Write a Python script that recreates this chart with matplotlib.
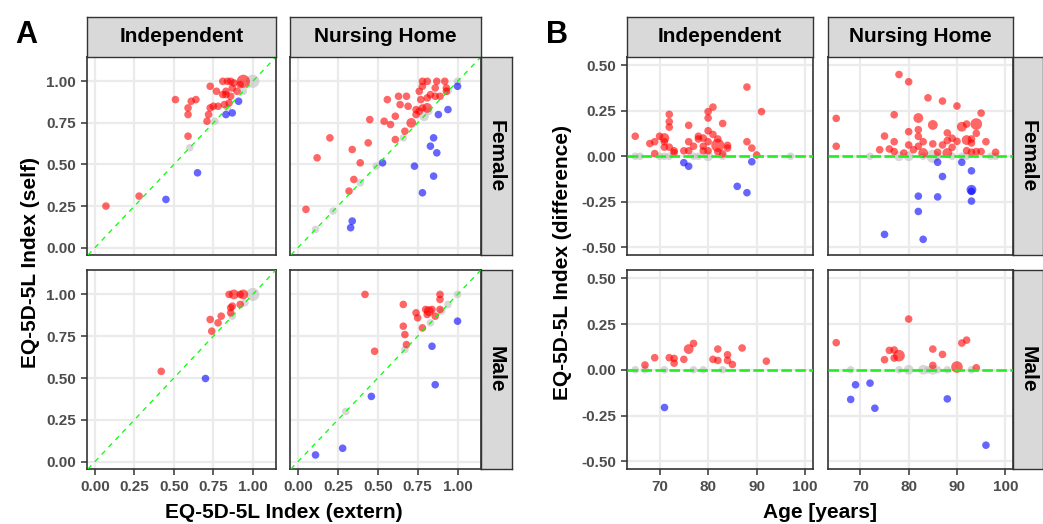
import matplotlib
matplotlib.use("Agg")
import matplotlib.pyplot as plt

# panel A: (EQ-5D-5L index extern, EQ-5D-5L index self, count)
a_ind_female = [
    (0.07, 0.25, 1), (0.28, 0.31, 1), (0.59, 0.67, 1), (0.51, 0.89, 1), (0.61, 0.88, 1),
    (0.64, 0.89, 1), (0.59, 0.84, 1), (0.59, 0.80, 1), (0.71, 0.76, 1), (0.72, 0.80, 1),
    (0.73, 0.84, 1), (0.75, 0.85, 1), (0.78, 0.85, 1), (0.82, 0.86, 1), (0.84, 0.84, 1),
    (0.73, 0.97, 1), (0.77, 0.94, 1), (0.81, 1.00, 1), (0.84, 1.00, 1), (0.86, 1.00, 1),
    (0.81, 0.92, 1), (0.83, 0.94, 1), (0.86, 0.91, 1), (0.87, 0.96, 1), (0.90, 0.94, 1),
    (0.85, 0.87, 1), (0.94, 1.00, 4), (0.92, 0.98, 1), (0.83, 0.92, 1), (0.88, 0.99, 1),
    (0.45, 0.29, 1), (0.65, 0.45, 1), (0.83, 0.80, 1), (0.87, 0.81, 1), (0.91, 0.88, 1),
    (0.60, 0.60, 1), (1.00, 1.00, 4), (0.76, 0.76, 1), (0.94, 0.94, 1),
]
a_nh_female = [
    (0.05, 0.23, 1), (0.12, 0.54, 1), (0.20, 0.66, 1), (0.34, 0.59, 1), (0.39, 0.51, 1),
    (0.44, 0.63, 1), (0.45, 0.77, 1), (0.35, 0.41, 1), (0.32, 0.34, 1), (0.54, 0.76, 1),
    (0.58, 0.74, 1), (0.56, 0.89, 1), (0.61, 0.79, 1), (0.63, 0.91, 1), (0.68, 0.91, 1),
    (0.64, 0.86, 1), (0.69, 0.85, 1), (0.61, 0.65, 1), (0.67, 0.70, 1), (0.71, 0.75, 2),
    (0.74, 0.83, 1), (0.74, 0.80, 1), (0.76, 0.82, 1), (0.77, 0.89, 1), (0.76, 0.94, 1),
    (0.78, 0.97, 1), (0.78, 1.00, 1), (0.81, 1.00, 1), (0.87, 1.00, 1), (0.92, 1.00, 1),
    (0.81, 0.90, 1), (0.83, 0.92, 1), (0.86, 0.91, 1), (0.86, 0.96, 1), (0.89, 0.91, 1),
    (0.93, 0.96, 1), (0.93, 0.94, 1), (0.81, 0.84, 2), (0.78, 0.84, 1), (0.82, 0.82, 1),
    (0.34, 0.16, 1), (0.33, 0.12, 1), (0.53, 0.51, 1), (0.73, 0.49, 1), (0.78, 0.33, 1),
    (0.85, 0.43, 1), (0.83, 0.61, 1), (0.85, 0.66, 1), (0.87, 0.57, 1), (0.88, 0.80, 1),
    (0.94, 0.83, 1), (1.00, 0.97, 1),
    (0.11, 0.11, 1), (0.22, 0.22, 1), (0.39, 0.39, 1), (0.49, 0.49, 1), (0.66, 0.66, 1),
    (0.79, 0.79, 2), (0.94, 0.94, 1), (1.00, 1.00, 1),
]
a_ind_male = [
    (0.42, 0.54, 1), (0.73, 0.85, 1), (0.74, 0.78, 1), (0.78, 0.83, 1), (0.80, 0.87, 1),
    (0.86, 0.92, 1), (0.87, 0.93, 1), (0.86, 0.89, 1), (0.92, 0.94, 1), (0.85, 1.00, 1),
    (0.88, 1.00, 2), (0.92, 1.00, 1), (0.94, 1.00, 2),
    (0.70, 0.50, 1),
    (1.00, 1.00, 4), (0.95, 0.95, 1), (0.87, 0.87, 1),
]
a_nh_male = [
    (0.42, 1.00, 1), (0.48, 0.66, 1), (0.66, 0.94, 1), (0.66, 0.81, 1), (0.67, 0.76, 1),
    (0.68, 0.70, 1), (0.74, 0.89, 1), (0.75, 0.86, 1), (0.78, 0.80, 1), (0.80, 0.91, 1),
    (0.82, 0.90, 2), (0.84, 0.91, 1), (0.81, 0.88, 1), (0.86, 0.87, 1), (0.89, 1.00, 1),
    (0.89, 0.97, 1), (0.89, 0.91, 1),
    (0.11, 0.04, 1), (0.28, 0.08, 1), (0.46, 0.39, 1), (0.84, 0.69, 1), (0.86, 0.46, 1),
    (1.00, 0.84, 1),
    (0.30, 0.30, 1), (0.67, 0.67, 1), (0.83, 0.83, 1), (0.90, 0.90, 1), (0.94, 0.94, 1),
    (1.00, 1.00, 1),
]

# panel B: (age, self - extern difference, count)
b_ind_female = [
    (65, 0.11, 1), (68, 0.07, 1), (69, 0.08, 1), (69, 0.015, 1), (70, 0.11, 1),
    (71, 0.10, 2), (71, 0.05, 1), (71, 0.08, 1), (72, 0.23, 1), (72, 0.19, 1),
    (72, 0.16, 1), (72, 0.05, 1), (73, 0.03, 1), (73, 0.02, 1), (75, 0.03, 1),
    (76, 0.17, 1), (76, 0.08, 1), (76, 0.03, 1), (77, 0.055, 1), (78, 0.11, 1),
    (78, 0.095, 1), (79, 0.10, 1), (79, 0.055, 1), (79, 0.03, 1), (80, 0.08, 1),
    (80, 0.14, 1), (80, 0.21, 1), (80, 0.245, 1), (81, 0.27, 1), (81, 0.12, 1),
    (80, 0.03, 1), (82, 0.095, 1), (82, 0.06, 4), (82, 0.025, 1), (83, 0.18, 1),
    (83, 0.013, 1), (84, 0.06, 1), (84, 0.045, 1), (88, 0.38, 1), (88, 0.08, 1),
    (89, 0.045, 1), (90, 0.007, 1), (91, 0.245, 1),
    (75, -0.035, 1), (76, -0.055, 1), (86, -0.165, 1), (88, -0.20, 1), (89, -0.03, 1),
    (65, 0.0, 1), (66, 0.0, 1), (70, 0.0, 1), (71, 0.0, 1), (72, 0.0, 1), (77, 0.0, 1),
    (78, 0.0, 1), (80, 0.0, 2), (83, 0.0, 1), (97, 0.0, 1),
]
b_nh_female = [
    (65, 0.208, 1), (65, 0.055, 1), (74, 0.036, 1), (75, 0.111, 1), (76, 0.040, 1),
    (77, 0.228, 1), (77, 0.080, 1), (77, 0.026, 1), (78, 0.449, 1), (79, 0.018, 1),
    (80, 0.409, 1), (80, 0.135, 1), (80, 0.062, 1), (81, 0.036, 1), (82, 0.210, 2),
    (82, 0.146, 1), (82, 0.109, 1), (82, 0.055, 1), (83, 0.080, 1), (83, 0.018, 2),
    (84, 0.321, 1), (85, 0.172, 2), (85, 0.068, 1), (86, 0.022, 1), (87, 0.303, 1),
    (87, 0.062, 1), (88, 0.128, 1), (88, 0.018, 2), (88, 0.086, 1), (89, 0.099, 1),
    (89, 0.049, 1), (90, 0.276, 1), (90, 0.082, 1), (91, 0.162, 2), (92, 0.177, 1),
    (92, 0.089, 2), (92, 0.031, 1), (93, 0.095, 1), (93, 0.073, 1), (93, 0.022, 1),
    (94, 0.177, 3), (94, 0.126, 1), (94, 0.026, 1), (95, 0.237, 1), (95, 0.026, 1),
    (96, 0.080, 1), (98, 0.022, 1),
    (75, -0.429, 1), (82, -0.219, 1), (82, -0.303, 1), (83, -0.456, 1), (86, -0.033, 1),
    (86, -0.223, 1), (87, -0.111, 1), (91, -0.033, 1), (93, -0.080, 1), (93, -0.184, 2),
    (93, -0.193, 1), (93, -0.246, 1),
    (72, 0.0, 1), (78, 0.0, 2), (80, 0.0, 2), (83, 0.0, 1), (85, 0.0, 4), (86, 0.0, 1),
    (89, 0.0, 1), (91, 0.0, 1), (92, 0.0, 1), (97, 0.0, 1), (98, 0.0, 1),
]
b_ind_male = [
    (67, 0.026, 1), (69, 0.066, 1), (72, 0.066, 1), (73, 0.062, 1), (73, 0.036, 1),
    (75, 0.057, 1), (76, 0.113, 2), (77, 0.144, 1), (81, 0.057, 1), (82, 0.113, 1),
    (82, 0.051, 1), (84, 0.082, 1), (84, 0.051, 1), (85, 0.029, 1), (87, 0.119, 1),
    (92, 0.047, 1),
    (71, -0.206, 1),
    (65, 0.0, 1), (67, 0.0, 1), (71, 0.0, 1), (77, 0.0, 1), (79, 0.0, 1), (83, 0.0, 1),
]
b_nh_male = [
    (65, 0.148, 1), (75, 0.055, 1), (76, 0.106, 1), (77, 0.108, 1), (77, 0.064, 1),
    (78, 0.077, 3), (80, 0.277, 1), (85, 0.113, 1), (85, 0.024, 1), (87, 0.084, 1),
    (90, 0.015, 3), (91, 0.146, 1), (92, 0.162, 1), (94, 0.011, 1),
    (68, -0.162, 1), (69, -0.082, 1), (72, -0.073, 1), (73, -0.210, 1), (88, -0.159, 1),
    (96, -0.412, 1),
    (68, 0.0, 1), (78, 0.0, 1), (80, 0.0, 2), (83, 0.0, 2), (84, 0.0, 1), (85, 0.0, 2),
    (86, 0.0, 1), (88, 0.0, 1), (93, 0.0, 1),
]

facets = ["Independent", "Nursing Home"]
sexes = ["Female", "Male"]
a_ticks = [0.0, 0.25, 0.5, 0.75, 1.0]
b_xticks = [70, 80, 90, 100]
b_yticks = [-0.5, -0.25, 0.0, 0.25, 0.5]

plt.rcParams['font.family'] = ['Liberation Sans', 'DejaVu Sans']
plt.rcParams['font.weight'] = 'bold'

W, H = 1043, 524
fig = plt.figure(figsize=(W / 100, H / 100), dpi=100)

DARK = '#333333'


def px_axes(x0, y0, x1, y1):
    return fig.add_axes([x0 / W, 1 - y1 / H, (x1 - x0) / W, (y1 - y0) / H])


def strip(x0, y0, x1, y1, label, rot=0):
    ax = px_axes(x0, y0, x1, y1)
    ax.set_facecolor('#D9D9D9')
    ax.set_xticks([])
    ax.set_yticks([])
    for s in ax.spines.values():
        s.set_color(DARK)
        s.set_linewidth(1.0)
    ax.text(0.5, 0.5, label, transform=ax.transAxes, ha='center', va='center',
            rotation=rot, fontsize=15, fontweight='bold', color='black')


def style(ax, xlim, ylim, xticks, yticks, show_x, show_y, fmt_x, fmt_y):
    ax.set_xlim(xlim)
    ax.set_ylim(ylim)
    ax.set_xticks(xticks)
    ax.set_yticks(yticks)
    ax.grid(True, color='#EBEBEB', linewidth=1.6, zorder=0)
    ax.set_axisbelow(True)
    for s in ax.spines.values():
        s.set_color(DARK)
        s.set_linewidth(1.2)
    ax.tick_params(length=4, width=1.1, color=DARK, labelcolor='#4D4D4D',
                   labelsize=11, pad=4)
    if show_x:
        ax.set_xticklabels([fmt_x(v) for v in xticks], fontweight='bold')
    else:
        ax.tick_params(axis='x', length=0, labelbottom=False)
    if show_y:
        ax.set_yticklabels([fmt_y(v) for v in yticks], fontweight='bold')
    else:
        ax.tick_params(axis='y', length=0, labelleft=False)


def draw_points(ax, pts, diff_mode):
    groups = {'grey': [], 'blue': [], 'red': []}
    for x, y, n in pts:
        d = y if diff_mode else y - x
        if abs(d) < 1e-9:
            groups['grey'].append((x, y, n))
        elif d > 0:
            groups['red'].append((x, y, n))
        else:
            groups['blue'].append((x, y, n))
    cols = {'grey': '#BEBEBE', 'blue': '#0000FF', 'red': '#FF0000'}
    for key in ['grey', 'blue', 'red']:
        g = groups[key]
        if not g:
            continue
        ax.scatter([p[0] for p in g], [p[1] for p in g],
                   s=[30 + 20 * (p[2] - 1) for p in g],
                   color=cols[key], alpha=0.6, linewidths=0, zorder=2)


fmt2 = lambda v: f"{v:.2f}"
fmti = lambda v: f"{v:d}"

rows_y = [(57, 255), (270, 469)]
a_cols = [(87, 276), (290, 481)]
b_cols = [(627, 813), (828, 1013)]

a_data = [[a_ind_female, a_nh_female], [a_ind_male, a_nh_male]]
b_data = [[b_ind_female, b_nh_female], [b_ind_male, b_nh_male]]

for r in range(2):
    for c in range(2):
        # panel A
        x0, x1 = a_cols[c]
        y0, y1 = rows_y[r]
        ax = px_axes(x0, y0, x1, y1)
        style(ax, (-0.05, 1.147), (-0.044, 1.146), a_ticks, a_ticks,
              r == 1, c == 0, fmt2, fmt2)
        draw_points(ax, a_data[r][c], False)
        ax.axline((0, 0), slope=1, color='#00FF00', linewidth=0.9,
                  dashes=(4, 4), zorder=3)
        # panel B
        x0, x1 = b_cols[c]
        ax = px_axes(x0, y0, x1, y1)
        style(ax, (63.3, 101.6), (-0.542, 0.545), b_xticks, b_yticks,
              r == 1, c == 0, fmti, fmt2)
        draw_points(ax, b_data[r][c], True)
        ax.axhline(0, color='#22EE22', linewidth=1.9, dashes=(4, 1.3), zorder=3)

for c in range(2):
    strip(a_cols[c][0], 17, a_cols[c][1], 57, facets[c])
    strip(b_cols[c][0], 17, b_cols[c][1], 57, facets[c])
for r in range(2):
    strip(481, rows_y[r][0], 512, rows_y[r][1], sexes[r], rot=-90)
    strip(1013, rows_y[r][0], 1043, rows_y[r][1], sexes[r], rot=-90)

fig.text(284 / W, 1 - 518 / H, "EQ-5D-5L Index (extern)", ha='center', va='baseline',
         fontsize=15, fontweight='bold')
fig.text(820 / W, 1 - 518 / H, "Age [years]", ha='center', va='baseline',
         fontsize=15, fontweight='bold')
fig.text(31 / W, 1 - 263 / H, "EQ-5D-5L Index (self)", ha='center', va='center',
         rotation=90, fontsize=15, fontweight='bold')
fig.text(563 / W, 1 - 263 / H, "EQ-5D-5L Index (difference)", ha='center', va='center',
         rotation=90, fontsize=15, fontweight='bold')
fig.text(15 / W, 1 - 43 / H, "A", ha='left', va='baseline', fontsize=22, fontweight='bold')
fig.text(546 / W, 1 - 43 / H, "B", ha='left', va='baseline', fontsize=22, fontweight='bold')

fig.savefig("out.png", dpi=100, facecolor='white')
